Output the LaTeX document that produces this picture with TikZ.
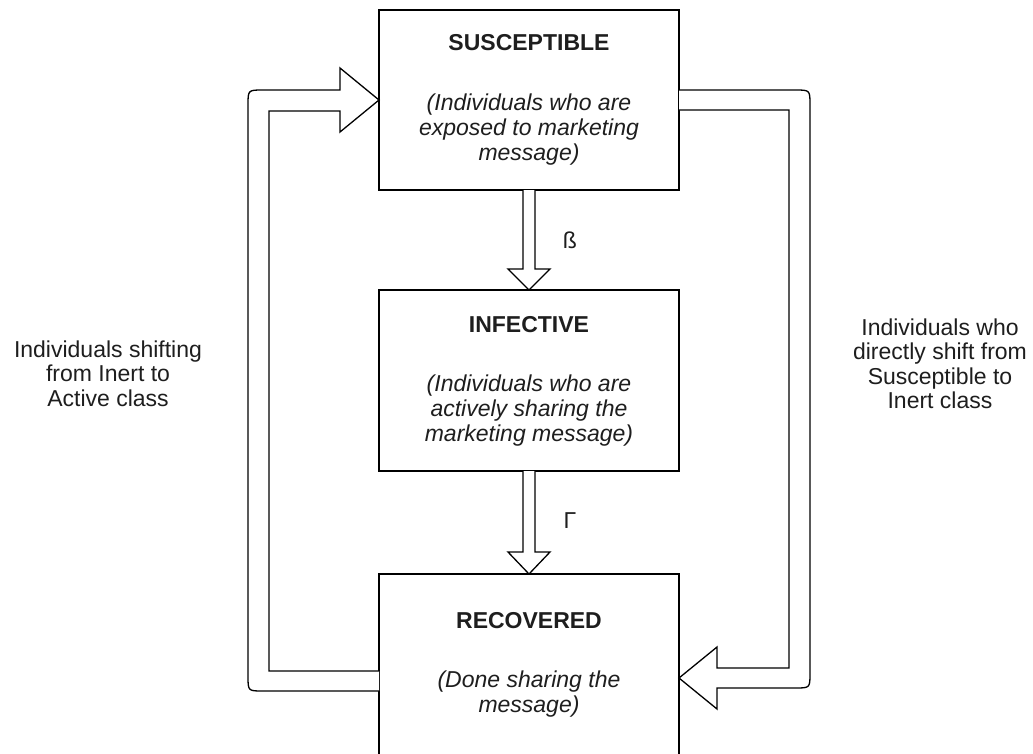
\documentclass[tikz,border=0pt]{standalone}
\usepackage{fontspec}
\setmainfont{Liberation Sans}
\usetikzlibrary{calc}
\definecolor{txt}{HTML}{1E1E1E}
\newcommand\mylines[1]{\vtop{\halign{\hfil##\hfil\cr#1\crcr}}}
\tikzset{
  box/.style={draw=black, line width=1.3pt, fill=white, minimum width=300pt, inner sep=0pt, outer sep=0pt},
  hollow/.style={draw=black, line width=1.3pt, fill=white, line join=miter},
  ttl/.style={font=\fontsize{23}{25}\selectfont\bfseries, text=txt, anchor=base, inner sep=0pt},
  desc/.style={font=\fontsize{23}{25}\selectfont\itshape, text=txt, anchor=base, inner sep=0pt},
  side/.style={font=\fontsize{23}{24.5}\selectfont, text=txt, anchor=base, inner sep=0pt},
  greek/.style={font=\fontsize{23}{25}\selectfont, text=txt, inner sep=0pt}
}
\begin{document}
\begin{tikzpicture}[x=1pt,y=-1pt]
\useasboundingbox[fill=white] (0,0) rectangle (1033,753);
\begin{scope}
\clip (0,0) rectangle (1033,753);
% boxes
\node[box, minimum height=180pt] (S) at (529,100) {};
\node[box, minimum height=181pt] (I) at (529,380.5) {};
\node[box, minimum height=200pt] (R) at (529,674) {};

% S -> I
\draw[hollow] ($(S.south)+(-6,0)$) -- ($(I.north)+(-6,-21)$) -- ($(I.north)+(-21,-21)$) -- (I.north)
  -- ($(I.north)+(21,-21)$) -- ($(I.north)+(6,-21)$) -- ($(S.south)+(6,0)$);
% I -> R
\draw[hollow] ($(I.south)+(-6,0)$) -- ($(R.north)+(-6,-22)$) -- ($(R.north)+(-21,-22)$) -- (R.north)
  -- ($(R.north)+(21,-22)$) -- ($(R.north)+(6,-22)$) -- ($(I.south)+(6,0)$);

% left loop R -> S
\draw[hollow] ($(R.north west)+(0,117)$) -- ($(R.north west)+(-116,117)$)
  .. controls ($(R.north west)+(-131,117)$) .. ($(R.north west)+(-131,102)$)
  -- ($(S.west)+(-131,5)$)
  .. controls ($(S.west)+(-131,-10)$) .. ($(S.west)+(-116,-10)$)
  -- ($(S.west)+(-39,-10)$) -- ($(S.west)+(-39,-32)$) -- (S.west)
  -- ($(S.west)+(-39,32)$) -- ($(S.west)+(-39,11)$) -- ($(S.west)+(-110,11)$)
  -- ($(R.north west)+(-110,97)$) -- ($(R.north west)+(0,97)$);

% right loop S -> R
\draw[hollow] ($(S.north east)+(0,80)$) -- ($(S.north east)+(116,80)$)
  .. controls ($(S.north east)+(131,80)$) .. ($(S.north east)+(131,95)$)
  -- ($(R.north east)+(131,99)$)
  .. controls ($(R.north east)+(131,114)$) .. ($(R.north east)+(116,114)$)
  -- ($(R.north east)+(38,114)$) -- ($(R.north east)+(38,135)$) -- ($(R.north east)+(0,104)$)
  -- ($(R.north east)+(38,73)$) -- ($(R.north east)+(38,94)$) -- ($(R.north east)+(110,94)$)
  -- ($(S.north east)+(110,100)$) -- ($(S.north east)+(0,100)$);

% box texts
\node[ttl] (St) at (529,50) {SUSCEPTIBLE};
\node[desc] (Sd) at (529,110) {\mylines{(Individuals who are\cr exposed to marketing\cr message)}};
\node[ttl] (It) at (529,332) {INFECTIVE};
\node[desc] (Id) at (529,391) {\mylines{(Individuals who are\cr actively sharing the\cr marketing message)}};
\node[ttl] (Rt) at (529,628) {RECOVERED};
\node[desc] (Rd) at (529,687) {\mylines{(Done sharing the\cr message)}};

% rate labels
\node[greek] (beta) at (570,240) {ß};
\node[greek] (gam) at (570,521) {Γ};

% side texts
\node[side] (Lt) at (108,357) {\mylines{Individuals shifting\cr from Inert to\cr Active class}};
\node[side] (Rtx) at (940,335) {\mylines{Individuals who\cr directly shift from\cr Susceptible to\cr Inert class}};
\end{scope}
\end{tikzpicture}
\end{document}
